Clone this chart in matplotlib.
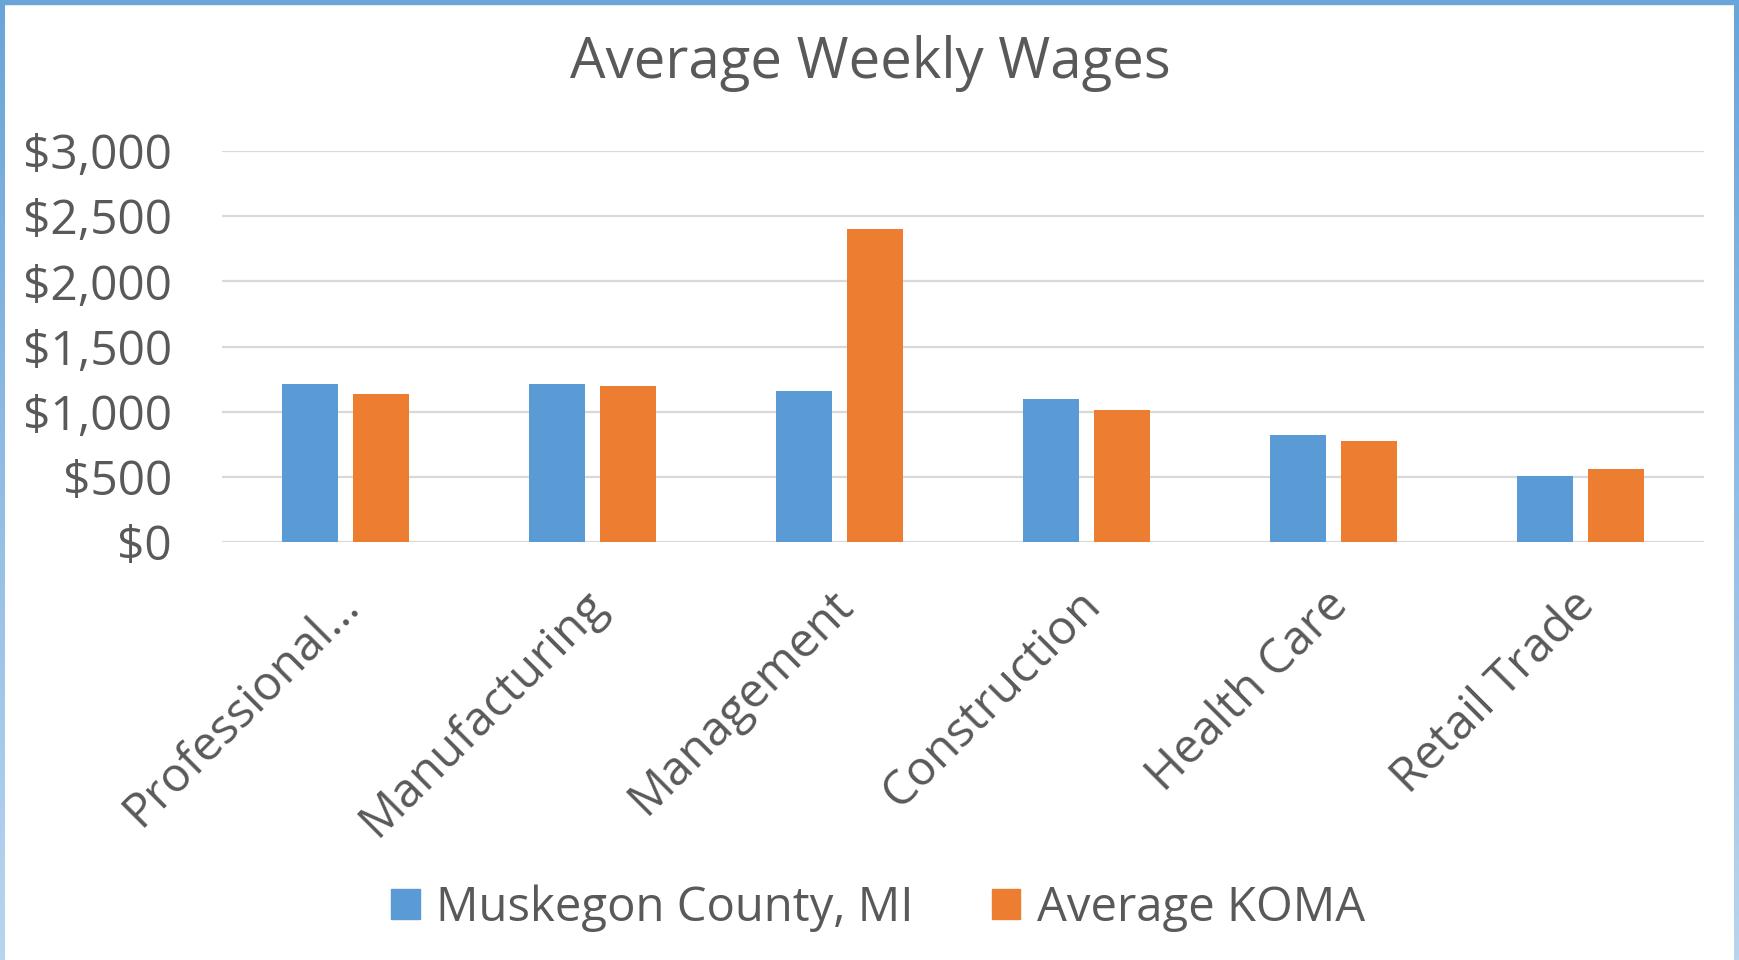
import numpy as np
import matplotlib.pyplot as plt
import matplotlib.transforms as mtransforms
from matplotlib.patches import Patch, Rectangle
from matplotlib.colors import LinearSegmentedColormap

plt.rcParams['font.family'] = ['Open Sans', 'DejaVu Sans']

categories = ['Professional\u2026', 'Manufacturing', 'Management',
              'Construction', 'Health Care', 'Retail Trade']
muskegon = [1213, 1211, 1160, 1101, 824, 504]
koma = [1137, 1198, 2404, 1011, 776, 558]
series_names = ['Muskegon County, MI', 'Average KOMA']
yticks = [0, 500, 1000, 1500, 2000, 2500, 3000]

blue = '#5b9bd5'
orange = '#ed7d31'
txt = '#595959'

W, H = 1740, 960
fig = plt.figure(figsize=(W / 100, H / 100), dpi=100)
fig.patch.set_facecolor('white')

ax = fig.add_axes([222 / W, 1 - 542 / H, (1704 - 222) / W, (542 - 151) / H])
x = np.arange(len(categories))
bw = 0.225
off = 0.144
ax.bar(x - off, muskegon, bw, color=blue, zorder=3)
ax.bar(x + off, koma, bw, color=orange, zorder=3)

ax.set_xlim(-0.5, len(categories) - 0.5)
ax.set_ylim(0, 3000)
ax.set_yticks(yticks)
ax.set_yticklabels(['${:,}'.format(v) for v in yticks])
ax.set_xticks(x)
ax.set_xticklabels(categories, rotation=45, ha='right', rotation_mode='anchor')
ax.tick_params(axis='both', length=0, labelsize=34.5, labelcolor=txt)
ax.tick_params(axis='y', pad=36)
ax.tick_params(axis='x', pad=14)
shift = mtransforms.ScaledTranslation(-10 / 100, -20 / 100, fig.dpi_scale_trans)
for lab in ax.get_xticklabels():
    lab.set_transform(lab.get_transform() + shift)
ax.grid(axis='y', color='#d9d9d9', linewidth=1.6, zorder=0)
ax.set_axisbelow(True)
for s in ax.spines.values():
    s.set_visible(False)

fig.text(870 / W, 1 - 64 / H, 'Average Weekly Wages', ha='center', va='center',
         fontsize=40.5, color=txt)

handles = [Patch(color=blue), Patch(color=orange)]
fig.legend(handles, series_names, loc='center', bbox_to_anchor=(878 / W, 1 - 908 / H),
           ncol=2, frameon=False, fontsize=34, labelcolor=txt,
           handlelength=0.6, handleheight=0.6, handletextpad=0.35, columnspacing=1.65)

# blue frame around the chart
fig.patches.append(Rectangle((0, 1 - 4 / H), 1, 4 / H, transform=fig.transFigure,
                             color='#6aa5d9', zorder=10))
grad = np.linspace(0, 1, 200).reshape(-1, 1)
cm = LinearSegmentedColormap.from_list('b', ['#6aa5d9', '#b8d5ef'])
lax = fig.add_axes([0, 0, 5 / W, 1 - 4 / H])
lax.imshow(grad, aspect='auto', cmap=cm)
lax.axis('off')
rax = fig.add_axes([1 - 6 / W, 0, 6 / W, 1 - 4 / H])
rax.imshow(grad, aspect='auto', cmap=cm)
rax.axis('off')

fig.savefig('out.png', dpi=100, facecolor='white')
